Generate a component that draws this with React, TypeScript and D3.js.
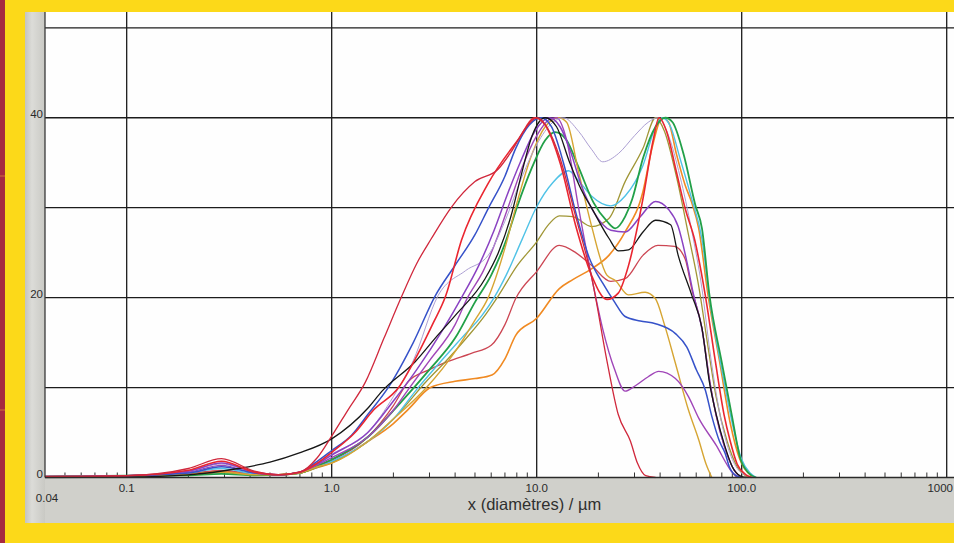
import React from "react";
import * as d3 from "d3";

type Pt = [number, number];

// ---- tick labels ----
const yTickValues = [0, 20, 40];
const yTickLabels = ["0", "20", "40"];
const yGridValues = [10, 20, 30, 40, 50];
const xGridValues = [0.1, 1, 10, 100, 1000];
const xTickValues = [0.1, 1, 10, 100];
const xTickLabels = ["0.1", "1.0", "10.0", "100.0"];
const xStartLabel = "0.04";
const xEndLabel = "1000";
const xTitle = "x (diamètres) / µm";

// ---- series (diameter µm, density) ----
const crimson: Pt[] = [[0.04,0.1],[0.1,0.2],[0.2,1.0],[0.29,2.1],[0.42,0.7],[0.55,0.3],[0.7,0.6],[0.85,2.2],[1.0,4.6],[1.2,7.5],[1.46,10.6],[1.8,15.5],[2.19,20.1],[2.6,23.8],[3.07,26.6],[3.85,30.1],[5.0,32.9],[6.5,34.3],[7.5,36.2],[8.8,38.8],[10,40],[11.2,39],[13,35.5],[15.5,29],[18.6,22.1],[22,13],[25,7],[28.7,4],[31,1.6],[34,0.2],[38,0]];
const redA: Pt[] = [[0.04,0.1],[0.1,0.2],[0.2,0.8],[0.29,1.8],[0.42,0.6],[0.55,0.3],[0.7,0.6],[0.85,1.6],[1.0,2.8],[1.3,5],[1.6,7.5],[2.12,10],[2.6,13.5],[3.1,17],[3.6,20.2],[4.3,26.4],[5.8,32.7],[8.2,37.7],[9.8,40],[11,39.2],[13,35],[15.5,28],[18.5,22.5],[22,19.8],[25,20.5],[28,23.5],[33,31],[37,37.5],[39.5,40],[43,38.5],[48,34],[53,29.9],[59,26.4],[66.5,20.2],[74.4,12.9],[82,7],[88,4],[95,1.5],[105,0.3],[112,0]];
const blue: Pt[] = [[0.04,0.1],[0.1,0.2],[0.2,0.5],[0.29,1.2],[0.42,0.5],[0.55,0.3],[0.7,0.6],[0.85,1.8],[1.0,3],[1.25,4.7],[1.5,7],[1.9,10.1],[2.5,15],[3.2,20.2],[4.0,23.6],[5.0,27],[5.8,29.9],[7.0,33.5],[7.9,36.6],[9.2,39.2],[10.5,40],[11.8,39],[13.5,35],[15.5,29.5],[18,24.5],[21,21.6],[24,19.5],[27,17.9],[32,17.4],[38,17.1],[47.5,16],[54,14.5],[60,12],[66.5,9.7],[71.5,6.8],[78,4],[83,2.7],[87,1.2],[94,0.2],[100,0]];
const lavender: Pt[] = [[0.04,0.1],[0.1,0.2],[0.2,0.7],[0.29,1.5],[0.42,0.5],[0.55,0.3],[0.7,0.6],[0.85,1.6],[1.0,2.6],[1.5,5],[2.0,9],[2.5,13],[3.3,20.2],[4.5,23],[5.8,24.7],[7,28.5],[8.5,33.5],[10,37],[12,39.5],[13.5,40],[16,38.5],[18.5,36.5],[21,35.1],[25,36],[30,38],[35,39.5],[39,40],[44,38],[50,33.5],[57,27.5],[64,21],[70,14],[80,6],[90,2],[100,0.5],[115,0]];
const purple: Pt[] = [[0.04,0.1],[0.1,0.2],[0.2,0.7],[0.29,1.6],[0.42,0.6],[0.55,0.3],[0.7,0.6],[0.85,1.5],[1.0,2.5],[1.5,5],[2.0,8.5],[2.6,12],[3.5,16.5],[4.3,20],[5.2,23.5],[6.2,27.5],[7.2,31.5],[8.3,35],[9.8,38.5],[11.5,40],[13,39],[14.5,36.5],[16.5,32.5],[19,29.5],[23,27.5],[27,27.3],[32,29],[38,30.7],[44,29.8],[49,27.9],[54,24],[58,20.5],[64,16.5],[70,10.5],[75,7],[82,3.6],[92,0.8],[100,0]];
const black: Pt[] = [[0.04,0],[0.1,0.05],[0.2,0.3],[0.35,1],[0.5,1.7],[0.69,2.7],[1.0,4.3],[1.5,7.7],[1.76,9.6],[2.56,12.9],[3.2,15.5],[4.0,18],[5.6,22.1],[6.5,25],[7.5,29.1],[8.4,33.6],[9.5,38],[11,40],[12.5,39],[14.5,35],[16.5,32],[18.6,29.9],[22.5,26.6],[25,25.2],[28,25.3],[33,27.3],[38,28.6],[45,28.1],[49,24.7],[57,20.3],[64,16.6],[69.6,10.6],[75.3,6.9],[82.5,3.6],[90,1.2],[98,0.2],[105,0]];
const violet: Pt[] = [[0.04,0.1],[0.1,0.2],[0.2,0.6],[0.29,1.35],[0.42,0.5],[0.55,0.3],[0.7,0.6],[0.85,1.4],[1.0,2.2],[1.5,4.5],[2.0,7.5],[2.4,10],[3,13],[4,17],[4.6,20],[5.5,23],[6.5,27],[7.5,31],[8.5,34.5],[10,38],[11.5,39.8],[12.5,40],[14,37.5],[16,30],[18.6,22.1],[21,16.5],[24,12],[27,9.6],[30.3,10.2],[35,11.2],[39.4,11.8],[47.5,11],[55,9],[61.7,6.6],[75,3.6],[89,0.7],[95,0]];
const goldenrod: Pt[] = [[0.04,0.1],[0.1,0.2],[0.2,0.35],[0.29,0.6],[0.42,0.3],[0.55,0.3],[0.7,0.5],[0.85,1.2],[1.0,1.6],[1.5,4],[2,6.5],[2.9,10],[4,14],[5,17.5],[5.8,20],[7,25.5],[8,30.5],[9.5,36],[11,39],[12.8,40],[14,39.5],[16,34],[18.5,28],[22,22.5],[24.2,21.9],[28,20.3],[33.8,20.6],[37.9,19.9],[42,17],[47.5,12.7],[55,7.5],[61.7,4.2],[67,1.5],[71.5,0]];
const green: Pt[] = [[0.04,0.1],[0.1,0.2],[0.2,0.25],[0.29,0.4],[0.42,0.25],[0.55,0.3],[0.7,0.5],[0.85,1.3],[1.0,2],[1.5,4.5],[2.2,8.5],[3,12],[4,15.5],[5,19.5],[6,22.5],[7,26],[8,30],[9.5,34.5],[11,37.5],[12.3,38.4],[14,37.5],[16,34.5],[19,30.5],[22,28.5],[24.2,27.7],[27,29],[29.2,30.9],[33,35.5],[38,39],[42.4,40],[46,39.5],[52,36],[59.4,30.3],[64,27.7],[69.6,20.3],[79.8,12.9],[89.5,6.9],[98.5,2.1],[108,0.5],[117,0]];
const cyan: Pt[] = [[0.04,0.1],[0.1,0.2],[0.2,0.5],[0.29,1.0],[0.42,0.4],[0.55,0.3],[0.7,0.6],[0.85,1.2],[1.0,1.8],[1.5,4],[2,6.5],[2.6,9.8],[3.4,12.9],[4.3,15.5],[5.4,18],[6.2,20],[7.1,22.5],[8.5,26.5],[10,30.1],[12,32.8],[14.3,34.1],[16,33],[18.5,31.3],[23,30.2],[27,31.3],[33,34.7],[38,39],[41,40],[45,39],[50,35.5],[57,31],[64,26.5],[70,19.5],[80,12],[90,6],[100,2],[110,0.5],[118,0]];
const olive: Pt[] = [[0.04,0.1],[0.1,0.2],[0.2,0.3],[0.29,0.55],[0.42,0.3],[0.55,0.3],[0.7,0.5],[0.85,1.1],[1.0,1.7],[1.5,4],[2,6.5],[2.9,10.7],[3.7,13.2],[4.5,15.4],[5.5,17.8],[6.5,20.2],[8,23.5],[10,26.2],[11.5,28.2],[12.9,29.1],[15,29],[18.5,27.9],[22.5,28.8],[27,32.9],[33,36.6],[38,40],[42,38.5],[48,33.5],[55,27],[62,21],[68,15],[75,9],[85,4],[95,1.2],[108,0]];
const redBrown: Pt[] = [[0.04,0.1],[0.1,0.2],[0.2,0.45],[0.29,0.8],[0.42,0.4],[0.55,0.3],[0.7,0.5],[0.85,1.2],[1.0,1.9],[1.5,4.5],[2,8],[2.37,10.7],[3,12],[3.7,12.9],[4.8,13.8],[6,14.7],[7,17],[7.9,19.9],[10,22.9],[12.9,25.8],[15.5,25],[18.5,23.6],[23,21.8],[27,22.1],[33,24.7],[39,25.8],[47,25.7],[53,24.3],[57,21],[64,16.6],[70,10.6],[75,6.9],[82,3.6],[92,0.8],[100,0]];
const orange: Pt[] = [[0.04,0.1],[0.1,0.2],[0.2,0.4],[0.29,0.7],[0.42,0.35],[0.55,0.3],[0.7,0.5],[0.85,1.1],[1.0,1.6],[1.5,4],[2,6],[2.37,7.6],[3.03,10],[4,10.7],[5,11],[6.05,11.4],[7,13.2],[7.9,15.8],[10,17.7],[12.9,21],[15,22],[18.5,23.2],[22.5,24.7],[27,27.3],[33,31.8],[36.5,36.6],[41,40],[44,39.5],[48,36],[53,32.5],[57,30.6],[61.7,27.7],[68.6,20.2],[78,12.9],[88,6],[98,2],[110,0.3],[118,0]];

const seriesData: Pt[][] = [orange, redBrown, olive, cyan, green, goldenrod, violet, lavender, purple, blue, black, redA, crimson];
const seriesColors = ["#f08a22", "#cc4653", "#a09636", "#4fc2e6", "#22a048", "#d6a533", "#a046b8", "#ac9fd2", "#8a42c2", "#3652c9", "#161616", "#ea2630", "#d0283c"];
const seriesWidths = [1.6, 1.3, 1.3, 1.4, 1.8, 1.4, 1.4, 1.0, 1.5, 1.5, 1.3, 1.6, 1.3];

export default function App() {
  const W = 954, H = 543;
  const left = 45, right = 954, top = 12, bottom = 477.5;
  const x = d3.scaleLog().domain([0.04, 1000]).range([45.1, 946.7]);
  const y = d3.scaleLinear().domain([0, 50]).range([477.5, 27.8]);
  const line = d3.line<Pt>().x((d) => x(d[0])).y((d) => y(d[1])).curve(d3.curveMonotoneX);
  const minor = x.ticks().filter((t) => {
    const l = Math.log10(t);
    return Math.abs(l - Math.round(l)) > 1e-6 && t > 0.04;
  });
  const font = "'Liberation Sans', Arial, sans-serif";
  return (
    <svg width={W} height={H} style={{ position: "absolute", left: 0, top: 0 }} fontFamily={font}>
      <defs>
        <clipPath id="plotclip">
          <rect x={left} y={top} width={right - left} height={bottom - top + 1} />
        </clipPath>
        <linearGradient id="leftgray" x1="0" x2="1" y1="0" y2="0">
          <stop offset="0" stopColor="#c4c4bf" />
          <stop offset="0.35" stopColor="#dcdcd8" />
          <stop offset="1" stopColor="#c9c9c4" />
        </linearGradient>
      </defs>
      <rect x={0} y={0} width={W} height={H} fill="#fcd919" />
      <rect x={0} y={0} width={5} height={H} fill="#a62a40" />
      <line x1={0} x2={5} y1={176} y2={176} stroke="#d0703a" strokeWidth={1} />
      <line x1={0} x2={5} y1={410} y2={410} stroke="#d0703a" strokeWidth={1} />
      <rect x={25} y={top} width={W - 25} height={523 - top} fill="#d0d0cb" />
      <rect x={25} y={top} width={20} height={523 - top} fill="url(#leftgray)" />
      <rect x={left} y={top} width={right - left} height={bottom - top} fill="#fefefe" />

      {yGridValues.map((v) => (
        <line key={"hg" + v} x1={left} x2={right} y1={y(v)} y2={y(v)} stroke="#1c1c1c" strokeWidth={1.3} />
      ))}
      {xGridValues.map((v) => (
        <line key={"vg" + v} x1={x(v)} x2={x(v)} y1={top} y2={bottom} stroke="#1c1c1c" strokeWidth={1.3} />
      ))}
      {minor.map((v) => (
        <line key={"mt" + v} x1={x(v)} x2={x(v)} y1={bottom - 5} y2={bottom} stroke="#333" strokeWidth={1} />
      ))}

      <g clipPath="url(#plotclip)">
        {seriesData.map((s, i) => (
          <path key={"s" + i} d={line(s) || ""} fill="none" stroke={seriesColors[i]} strokeWidth={seriesWidths[i]} strokeLinejoin="round" />
        ))}
      </g>

      <line x1={left} x2={left} y1={top} y2={bottom} stroke="#3a3a3a" strokeWidth={1.3} />
      <line x1={left} x2={right} y1={bottom} y2={bottom} stroke="#2a2a2a" strokeWidth={1.5} />

      {yTickValues.map((v, i) => (
        <text key={"yl" + v} x={43} y={y(v) + 0.5} textAnchor="end" fontSize={11.5} fill="#2a2a2a">
          {yTickLabels[i]}
        </text>
      ))}
      {xTickValues.map((v, i) => (
        <text key={"xl" + v} x={x(v)} y={492} textAnchor="middle" fontSize={11.5} fill="#2a2a2a">
          {xTickLabels[i]}
        </text>
      ))}
      <text x={47} y={502} textAnchor="middle" fontSize={11.5} fill="#2a2a2a">{xStartLabel}</text>
      <text x={953} y={492} textAnchor="end" fontSize={11.5} fill="#2a2a2a">{xEndLabel}</text>
      <text x={534.5} y={510} textAnchor="middle" fontSize={16.5} fill="#2f2f2f">{xTitle}</text>
    </svg>
  );
}
